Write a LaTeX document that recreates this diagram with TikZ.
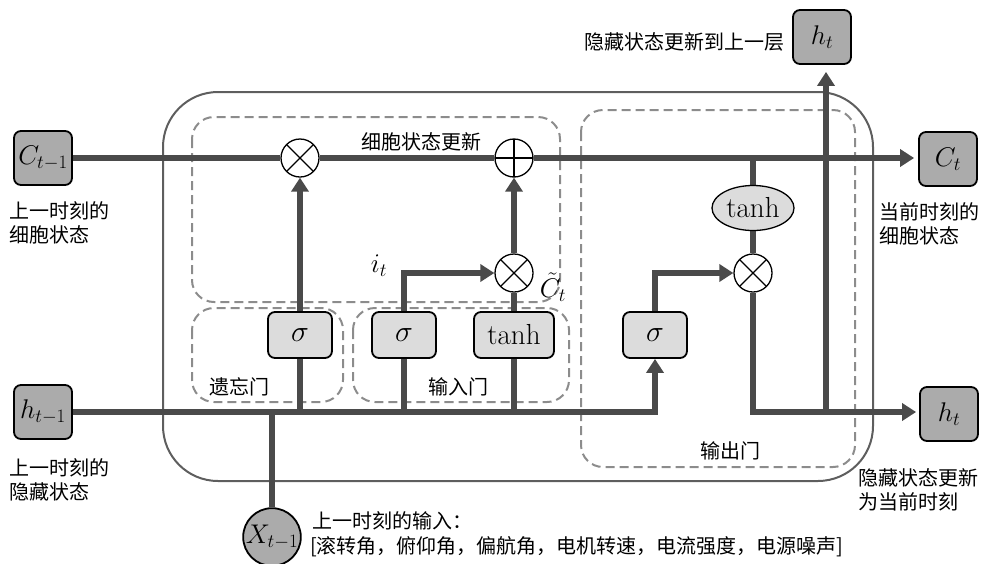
\RequirePackage{fix-cm}
\documentclass[tikz,border=0pt]{standalone}
\usepackage{fontspec}
\newfontfamily\cjk{Noto Sans CJK SC}
\usetikzlibrary{arrows.meta,shapes.geometric}
\definecolor{flowc}{HTML}{4A4A4A}
\definecolor{iogray}{HTML}{ABABAB}
\definecolor{gategray}{HTML}{DCDCDC}
\definecolor{dashc}{HTML}{8C8C8C}
\definecolor{outerc}{HTML}{5E5E5E}
\pgfdeclarelayer{back}
\pgfdeclarelayer{mid}
\pgfsetlayers{back,mid,main}
\begin{document}
\begin{tikzpicture}[x=1pt,y=-1pt,
  mathf/.style={font=\fontsize{27}{30}\selectfont},
  sigf/.style={font=\fontsize{30}{32}\selectfont},
  io/.style={draw=black, line width=1.8pt, fill=iogray, rounded corners=7pt, minimum width=58pt, minimum height=54pt, inner sep=0pt, mathf},
  gatebox/.style={draw=black, line width=1.8pt, fill=gategray, rounded corners=7pt, minimum width=64pt, minimum height=46pt, inner sep=0pt, sigf},
  op/.style={circle, draw=black, line width=1.3pt, fill=white, minimum size=38pt, inner sep=0pt},
  times/.style={op, path picture={\draw[line width=1.3pt] (path picture bounding box.north west) -- (path picture bounding box.south east) (path picture bounding box.north east) -- (path picture bounding box.south west);}},
  plusop/.style={op, path picture={\draw[line width=1.3pt] (path picture bounding box.north) -- (path picture bounding box.south) (path picture bounding box.east) -- (path picture bounding box.west);}},
  flow/.style={draw=flowc, line width=6pt},
  arr/.style={flow, -{Triangle[length=14pt,width=17pt]}},
  dbox/.style={draw=dashc, line width=2pt, dash pattern=on 9pt off 5pt, rounded corners=22pt},
  lbl/.style={font=\cjk\fontsize{20}{24}\selectfont, inner sep=0pt},
  tanhf/.style={font=\fontsize{29}{32}\selectfont}
]
\useasboundingbox (0,0) rectangle (987,563);

% nodes
\node[io] (Cprev) at (43,158) {$C_{t-1}$};
\node[io] (hprev) at (43,412) {$h_{t-1}$};
\node[io] (Ct) at (948,159) {$C_t$};
\node[io] (ht) at (949,414) {$h_t$};
\node[io] (htop) at (822,37) {$h_t$};
\node[circle, draw=black, line width=1.8pt, fill=iogray, minimum size=56pt, inner sep=0pt, mathf] (xin) at (272,537) {$X_{t-1}$};

\node[times] (m1) at (300,158) {};
\node[plusop] (plus) at (514,158) {};
\node[times] (m2) at (514,273) {};
\node[times] (m3) at (753,273) {};
\node[ellipse, draw=black, line width=1.3pt, fill=gategray, minimum width=82pt, minimum height=45pt, inner sep=0pt, tanhf] (tanhE) at (753,208) {tanh};

\node[gatebox] (fs) at (300,335) {$\sigma$};
\node[gatebox] (is) at (404,335) {$\sigma$};
\node[gatebox, minimum width=80pt, tanhf] (tg) at (514,335) {tanh};
\node[gatebox] (os) at (655,335) {$\sigma$};

\node[mathf, inner sep=0pt] (itl) at (379,266) {$i_t$};
\node[mathf, inner sep=0pt] (ctl) at (553,287) {$\tilde{C}_t$};

% text labels
\node[lbl, anchor=west] (l1) at (9,211) {上一时刻的};
\node[lbl, anchor=west] (l2) at (9,235) {细胞状态};
\node[lbl, anchor=west] (l3) at (9,468) {上一时刻的};
\node[lbl, anchor=west] (l4) at (9,492) {隐藏状态};
\node[lbl, anchor=east] (l5) at (785,42) {隐藏状态更新到上一层};
\node[lbl, anchor=west] (l6) at (879,212) {当前时刻的};
\node[lbl, anchor=west] (l7) at (879,236) {细胞状态};
\node[lbl, anchor=west] (l8) at (858,478) {隐藏状态更新};
\node[lbl, anchor=west] (l9) at (858,502) {为当前时刻};
\node[lbl, anchor=west] (l10) at (312,521) {上一时刻的输入：};
\node[lbl, anchor=west] (l11) at (310,547) {[滚转角，俯仰角，偏航角，电机转速，电流强度，电源噪声]};
\node[lbl] (b1) at (421,142) {细胞状态更新};
\node[lbl] (b2) at (239,387) {遗忘门};
\node[lbl] (b3) at (458,387) {输入门};
\node[lbl] (b4) at (730,451) {输出门};

\begin{pgfonlayer}{back}
\draw[draw=outerc, line width=2pt, rounded corners=55pt] (163,92) rectangle (873,481);
\draw[dbox] (192,117) rectangle (560,302);
\draw[dbox] (192,308) rectangle (343,402);
\draw[dbox] (353,308) rectangle (569,402);
\draw[dbox] (581,110) rectangle (855,467);
\end{pgfonlayer}

\begin{pgfonlayer}{mid}
\coordinate (ctap) at (753,158);
\coordinate (up) at (826,412);
\draw[flow] (Cprev.east) -- (m1.west);
\draw[flow] (m1.east) -- (plus.west);
\draw[arr] (plus.east) -- ([xshift=-4pt]Ct.west |- plus.east);
\draw[flow] (ctap) -- (tanhE.north);
\draw[flow] (tanhE.south) -- (m3.north);
\draw[arr] (m3.south) |- ([xshift=-3pt]ht.west |- up);
\draw[arr] (up) -- ([yshift=-7pt]up |- htop.south);
\draw[arr] (hprev.east) -| (os.south);
\draw[flow] (fs.south) -- (fs.south |- hprev.east);
\draw[flow] (is.south) -- (is.south |- hprev.east);
\draw[flow] (tg.south) -- (tg.south |- hprev.east);
\draw[flow] (xin.north) -- (xin.north |- hprev.east);
\draw[arr] (fs.north) -- (m1.south);
\draw[arr] (is.north) |- (m2.west);
\draw[flow] (tg.north) -- (m2.south);
\draw[arr] (m2.north) -- (plus.south);
\draw[arr] (os.north) |- (m3.west);
\end{pgfonlayer}
\end{tikzpicture}
\end{document}
